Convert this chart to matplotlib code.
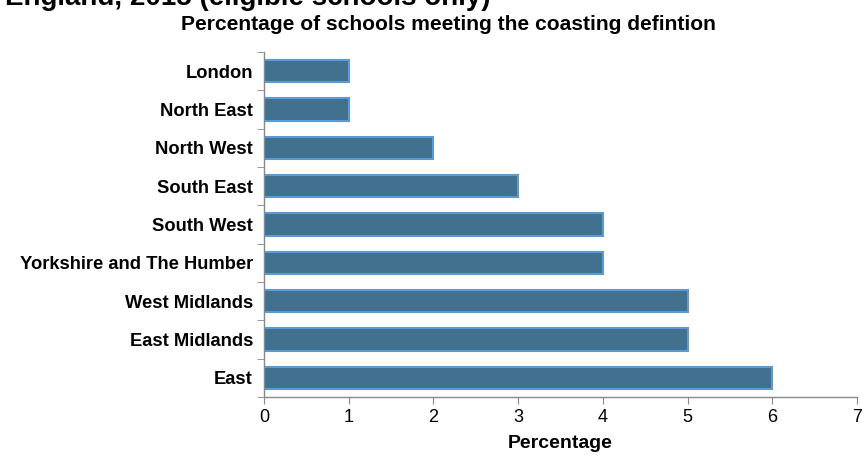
import matplotlib
matplotlib.use("Agg")
import matplotlib.pyplot as plt
import numpy as np

plt.rcParams['font.family'] = ['Liberation Sans', 'DejaVu Sans']

regions = ["London", "North East", "North West", "South East", "South West",
           "Yorkshire and The Humber", "West Midlands", "East Midlands", "East"]
percentages = [1, 1, 2, 3, 4, 4, 5, 5, 6]
x_ticks = [0, 1, 2, 3, 4, 5, 6, 7]

fig = plt.figure(figsize=(8.64, 4.59), dpi=100)
ax = fig.add_axes([264/864, 1 - 397/459, (857-264)/864, (397-52)/459])

y = np.arange(len(regions))
ax.barh(y, percentages, height=0.58, color='#41718f', edgecolor='#5b9bd5', linewidth=1.5)
ax.set_ylim(len(regions) - 0.5, -0.5)
ax.set_xlim(0, 7)
ax.set_xticks(x_ticks)
ax.set_xticklabels([str(t) for t in x_ticks], fontsize=13)

ax.set_yticks(y)
ax.set_yticklabels(regions, fontsize=13.2, fontweight='bold')
ax.tick_params(axis='y', length=0, pad=8)
ax.set_yticks(np.arange(len(regions) + 1) - 0.5, minor=True)
ax.tick_params(axis='y', which='minor', length=5, color='#888888', direction='out')
ax.tick_params(axis='x', length=5, color='#888888', direction='out', pad=4)

for s in ['top', 'right']:
    ax.spines[s].set_visible(False)
for s in ['left', 'bottom']:
    ax.spines[s].set_color('#888888')
    ax.spines[s].set_linewidth(1.0)

ax.set_xlabel("Percentage", fontsize=14, fontweight='bold', labelpad=6)
fig.text(448/864, 1 - 25/459, "Percentage of schools meeting the coasting defintion",
         ha='center', va='center', fontsize=15.1, fontweight='bold')
fig.text(5/864, 1 - 5/459, "England, 2015 (eligible schools only)",
         ha='left', va='baseline', fontsize=20, fontweight='bold')

fig.savefig("out.png", dpi=100)
